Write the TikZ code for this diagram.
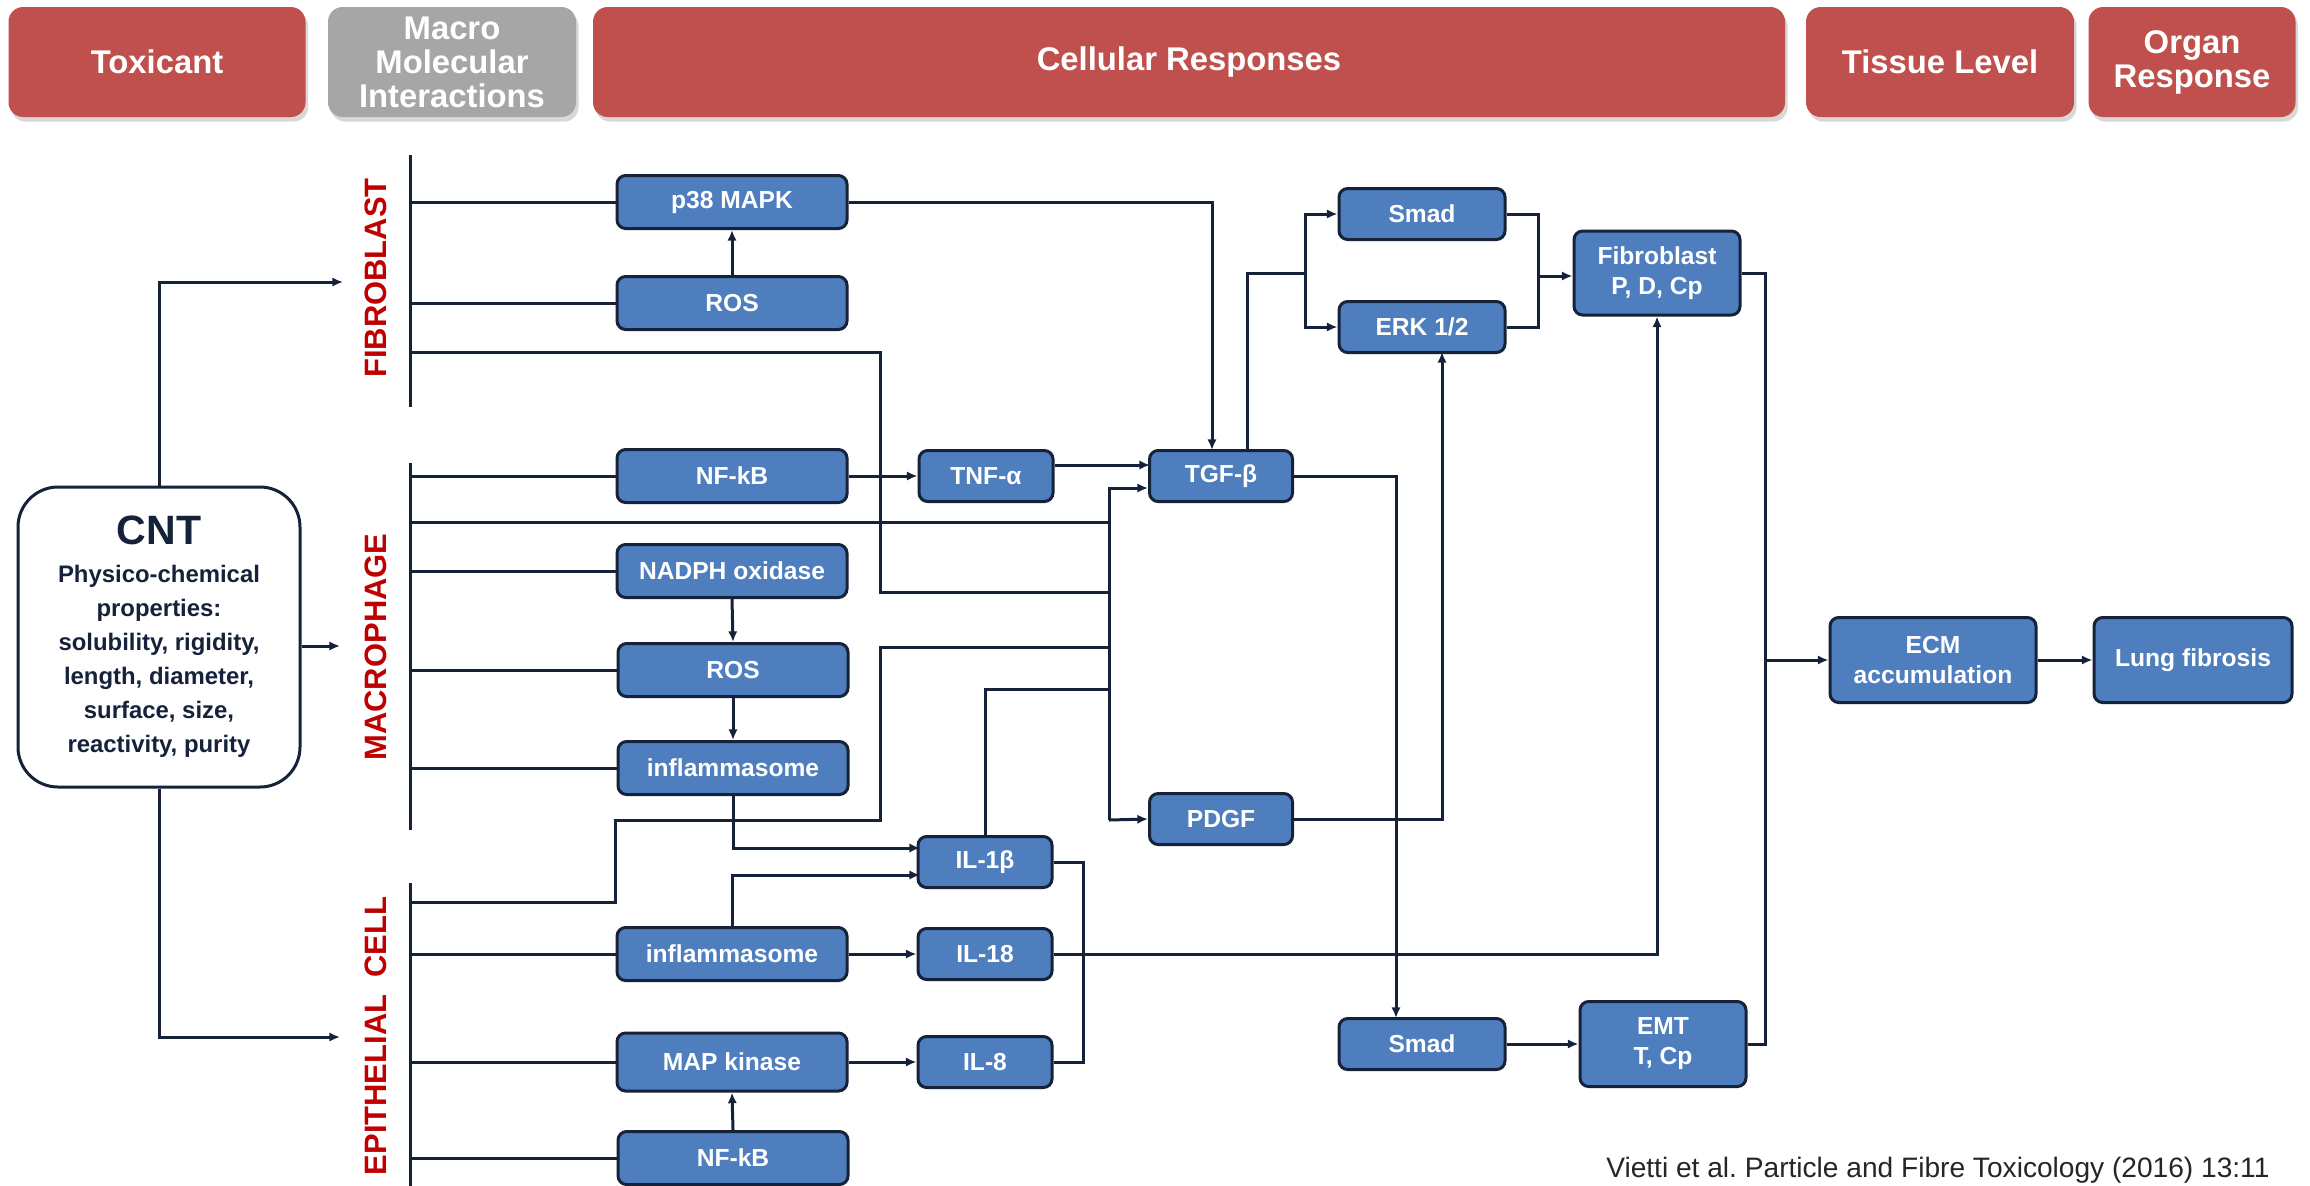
\documentclass[tikz,border=0pt]{standalone}
\usepackage{fontspec}
\setmainfont{Liberation Sans}
\usetikzlibrary{shapes, calc, arrows.meta, shadows}
\usepackage{xcolor}

\definecolor{hdrred}{RGB}{192,80,77}
\definecolor{hdrgrey}{RGB}{166,166,166}
\definecolor{boxblue}{RGB}{79,126,190}
\definecolor{navy}{RGB}{22,34,58}
\definecolor{cellred}{RGB}{192,0,0}

\newcommand{\px}{0.15mm}

\tikzset{
  hdr/.style={fill=hdrred, rounded corners=2.2mm, text=white, align=center,
    font=\fontsize{14}{14.5}\selectfont\bfseries, minimum height=110*\px, inner sep=0pt,
    drop shadow={shadow xshift=0.4mm, shadow yshift=-0.7mm, opacity=0.3}},
  blk/.style={draw=navy, fill=boxblue, line width=0.45mm, rounded corners=1.3mm,
    text=white, align=center, font=\fontsize{10.5}{12.8}\selectfont\bfseries, inner sep=0pt},
  colA/.style={blk, minimum width=230*\px, minimum height=53*\px},
  colB/.style={blk, minimum width=134*\px, minimum height=51*\px},
  colC/.style={blk, minimum width=143*\px, minimum height=51*\px},
  colD/.style={blk, minimum width=166*\px, minimum height=51*\px},
  colE/.style={blk, minimum width=166*\px, minimum height=84*\px},
  colF/.style={blk, minimum width=206*\px, minimum height=85*\px},
  cellLbl/.style={rotate=90, text=cellred, font=\fontsize{13.2}{14}\selectfont\bfseries},
  wire/.style={draw=navy, line width=0.45mm},
  arr/.style={wire, -{Latex[length=1.6mm,width=1.4mm]}},
}

\begin{document}
\begin{tikzpicture}[x=\px, y=-\px]
    \fill[white] (0,0) rectangle (2310,1185);
    \useasboundingbox (0,0) rectangle (2310,1185);

    \node[hdr, minimum width=297*\px] (hTox) at (157,62) {Toxicant};
    \node[hdr, fill=hdrgrey, minimum width=248*\px] (hMacro) at (452,62) {Macro\\Molecular\\Interactions};
    \node[hdr, minimum width=1192*\px] (hCell) at (1189,62) {Cellular Responses};
    \node[hdr, minimum width=268*\px] (hTissue) at (1940,62) {Tissue Level};
    \node[hdr, minimum width=207*\px] (hOrgan) at (2192,62) {Organ\\Response};

    \node[draw=navy, line width=0.45mm, rounded corners=6mm, fill=white, text=navy,
      minimum width=282*\px, minimum height=300*\px, align=center, inner sep=0pt,
      font=\fontsize{10.2}{14.5}\selectfont\bfseries] (cnt) at (159,637)
      {{\fontsize{17.5}{17.5}\selectfont CNT}\\[0.6mm]Physico-chemical\\properties:\\solubility, rigidity,\\length, diameter,\\surface, size,\\reactivity, purity};

    \node[cellLbl] (lblFib) at (376,278) {FIBROBLAST};
    \node[cellLbl] (lblMac) at (376,647) {MACROPHAGE};
    \node[cellLbl] (lblEpi) at (376,1036) {EPITHELIAL~~CELL};

    \path (410,155) coordinate (fibTop);
    \path (410,407) coordinate (fibBot);
    \path (410,463) coordinate (macTop);
    \path (410,830) coordinate (macBot);
    \path (410,883) coordinate (epiTop);
    \path (410,1190) coordinate (epiBot);
    \draw[wire] (fibTop) -- (fibBot);
    \draw[wire] (macTop) -- (macBot);
    \draw[wire] (epiTop) -- (epiBot);

    \node[colA] (fibP38) at (732,202) {p38 MAPK};
    \node[colA] (fibROS) at (732,303) {ROS};
    \node[colA] (macNFkB) at (732,476) {NF-kB};
    \node[colA] (macNADPH) at (732,571) {NADPH oxidase};
    \node[colA] (macROS) at (733,670) {ROS};
    \node[colA] (macInfl) at (733,768) {inflammasome};
    \node[colA] (epiInfl) at (732,954) {inflammasome};
    \node[colA, minimum height=58*\px] (epiMAPK) at (732,1062) {MAP kinase};
    \node[colA] (epiNFkB) at (733,1158) {NF-kB};

    \node[colB] (tnf) at (986,476) {TNF-α};
    \node[colB] (il1b) at (985,862) {IL-1β};
    \node[colB] (il18) at (985,954) {IL-18};
    \node[colB] (il8) at (985,1062) {IL-8};

    \node[colC] (tgf) at (1221,476) {TGF-β};
    \node[colC] (pdgf) at (1221,819) {PDGF};

    \node[colD] (smadA) at (1422,214) {Smad};
    \node[colD] (erk) at (1422,327) {ERK 1/2};
    \node[colD] (smadB) at (1422,1044) {Smad};

    \node[colE] (fibPDC) at (1657,273) {Fibroblast\\P, D, Cp};
    \node[colE, minimum height=85*\px] (emt) at (1663,1044) {EMT\\T, Cp};

    \node[colF] (ecm) at (1933,660) {ECM\\accumulation};
    \node[colF, minimum width=198*\px] (lung) at (2193,660) {Lung fibrosis};

    \path (343,282) coordinate (fibIn);
    \path (340,646) coordinate (macIn);
    \path (340,1037) coordinate (epiIn);
    \draw[arr] (cnt.north) |- (fibIn);
    \draw[arr] (cnt.east |- macIn) -- (macIn);
    \draw[arr] (cnt.south) |- (epiIn);

    \path (410,352) coordinate (fibOut);
    \path (880,592) coordinate (jFib);
    \path (1109,488) coordinate (busTop);
    \path (1109,820) coordinate (busBot);
    \path (410,522) coordinate (macOut);
    \path (880,647) coordinate (jA);
    \path (615,820) coordinate (jB);
    \path (410,902) coordinate (epiOut);
    \path (1109,689) coordinate (jC);
    \path (1150,465) coordinate (tgfIn);
    \path (1212,450) coordinate (tgfTop);
    \path (920,848) coordinate (il1bInA);
    \path (920,875) coordinate (il1bInB);
    \path (1247,273) coordinate (jD);
    \path (1305,273) coordinate (jE);
    \path (1538,276) coordinate (jF);
    \path (1396,1018) coordinate (smadIn);
    \path (1442,352) coordinate (erkIn);
    \path (1083,863) coordinate (jH);
    \path (1765,660) coordinate (jI);

    \draw[wire] (fibP38.west -| fibTop) -- (fibP38.west);
    \draw[wire] (fibROS.west -| fibTop) -- (fibROS.west);
    \draw[arr] (fibROS.north) -- (fibP38.south);
    \draw[arr] (fibP38.east) -| (tgfTop);
    \draw[wire] (fibOut) -| (jFib) -- (jFib -| busTop);

    \draw[wire] (macNFkB.west -| macTop) -- (macNFkB.west);
    \draw[wire] (macOut) -- (macOut -| busTop);
    \draw[wire] (macNADPH.west -| macTop) -- (macNADPH.west);
    \draw[wire] (macROS.west -| macTop) -- (macROS.west);
    \draw[wire] (macInfl.west -| macTop) -- (macInfl.west);
    \draw[arr] (macNFkB.east) -- (tnf.west);
    \draw[arr] (tnf.east |- tgfIn) -- (tgfIn);
    \draw[arr] (macNADPH.south) -- (macROS.north);
    \draw[arr] (macROS.south) -- (macInfl.north);
    \draw[arr] (macInfl.south) |- (il1bInA);

    \draw[arr] (busBot) -- (busTop) -- (tgf.west |- busTop);
    \draw[arr] (busBot) -- (pdgf.west);
    \draw[wire] (jA -| busTop) -- (jA) |- (jB) |- (epiOut);
    \draw[wire] (il1b.north) |- (jC);

    \draw[wire] (epiInfl.west -| epiTop) -- (epiInfl.west);
    \draw[wire] (epiMAPK.west -| epiTop) -- (epiMAPK.west);
    \draw[wire] (epiNFkB.west -| epiTop) -- (epiNFkB.west);
    \draw[arr] (epiInfl.north) |- (il1bInB);
    \draw[arr] (epiInfl.east) -- (il18.west);
    \draw[arr] (epiMAPK.east) -- (il8.west);
    \draw[arr] (epiNFkB.north) -- (epiMAPK.south);
    \draw[wire] (il1b.east) -| (jH |- il8.east) -- (il8.east);
    \draw[arr] (il18.east) -| (fibPDC.south);

    \draw[wire] (tgf.north -| jD) -- (jD) -- (jE);
    \draw[arr] (jE) |- (smadA.west);
    \draw[arr] (jE) |- (erk.west);
    \draw[wire] (smadA.east) -| (jF);
    \draw[wire] (erk.east) -| (jF);
    \draw[arr] (jF) -- (fibPDC.west |- jF);
    \draw[arr] (tgf.east) -| (smadIn);
    \draw[arr] (pdgf.east) -| (erkIn);
    \draw[arr] (smadB.east) -- (emt.west);

    \draw[wire] (fibPDC.east) -| (jI);
    \draw[wire] (emt.east) -| (jI);
    \draw[arr] (jI) -- (ecm.west);
    \draw[arr] (ecm.east) -- (lung.west);

    \node[anchor=base west, text=black!85, font=\fontsize{12}{13}\selectfont] (cite) at (1598,1177)
      {Vietti et al.\ Particle and Fibre Toxicology (2016) 13:11};
\end{tikzpicture}
\end{document}
